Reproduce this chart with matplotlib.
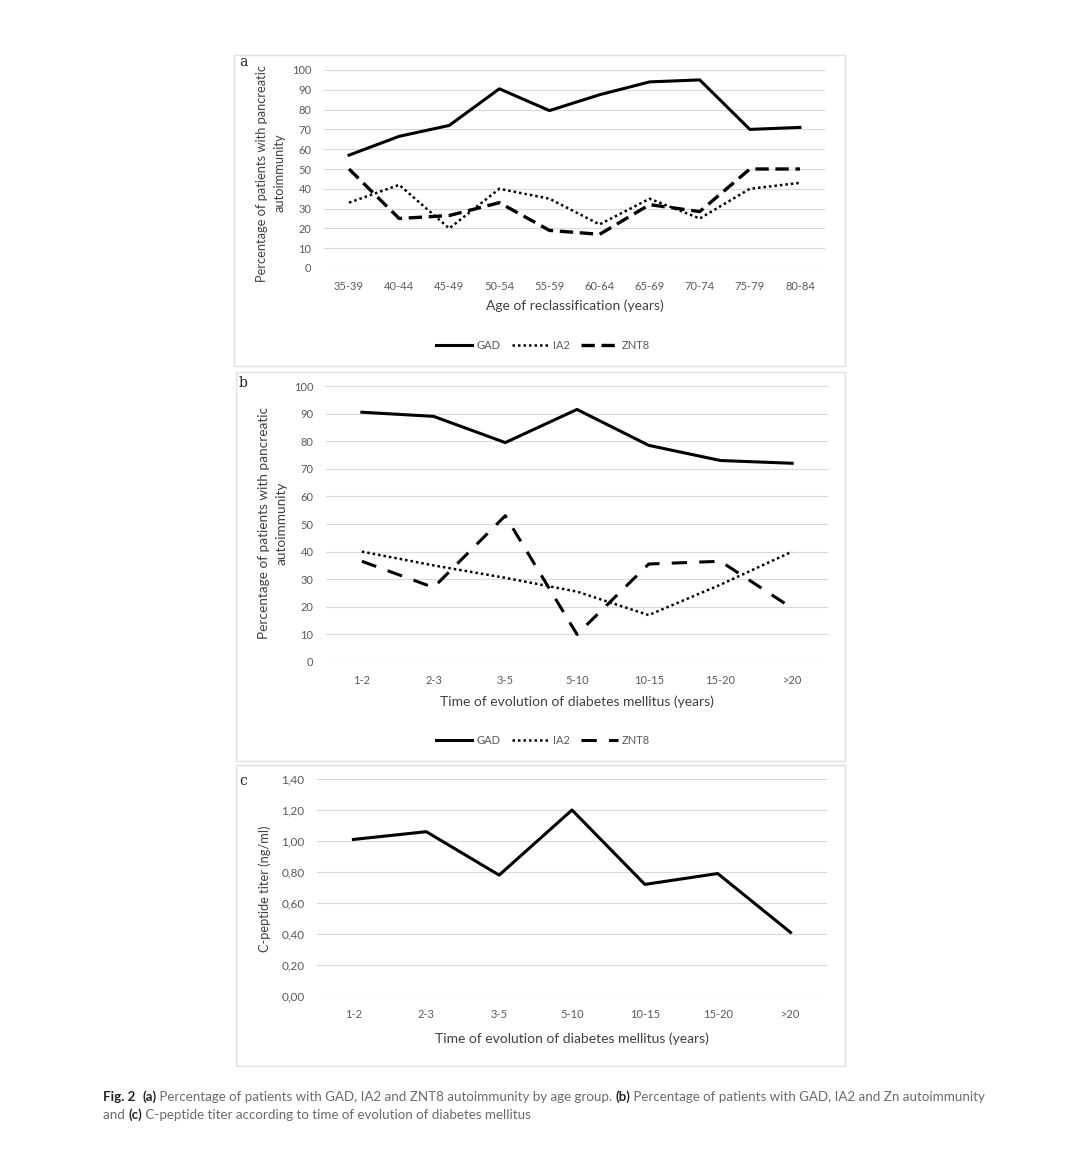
import matplotlib
matplotlib.use('Agg')
import matplotlib.pyplot as plt
from matplotlib.patches import Rectangle

plt.rcParams['font.family'] = ['Lato', 'DejaVu Sans']

# panel a : age of reclassification
age_groups = ['35-39', '40-44', '45-49', '50-54', '55-59', '60-64', '65-69', '70-74', '75-79', '80-84']
gad_a = [57, 66.5, 72, 90.5, 79.5, 87.5, 94, 95, 70, 71]
ia2_a = [33, 42, 20, 40, 35, 22, 35, 25, 40, 43]
znt8_a = [50, 25, 26.5, 33, 19, 17, 32, 28.5, 50, 50]

# panel b : time of evolution
evolution = ['1-2', '2-3', '3-5', '5-10', '10-15', '15-20', '>20']
gad_b = [90.5, 89, 79.5, 91.5, 78.5, 73, 72]
ia2_b = [40, 35, 30.5, 25.5, 17, 28, 40]
znt8_b = [36.5, 27, 53, 10, 35.5, 36.5, 19.5]

# panel c : C-peptide
cpeptide = [1.01, 1.06, 0.78, 1.20, 0.72, 0.79, 0.41]

W, H = 1080, 1149
fig = plt.figure(figsize=(W / 100, H / 100), dpi=100)
fig.patch.set_facecolor('white')

txt = '#595959'
grid = '#d9d9d9'


def box(x0, y0, x1, y1):
    # px coords from top-left
    return [x0 / W, 1 - y1 / H, (x1 - x0) / W, (y1 - y0) / H]


def style(ax):
    for s in ax.spines.values():
        s.set_visible(False)
    ax.tick_params(length=0, labelsize=8, colors=txt, pad=9)
    ax.yaxis.grid(True, color=grid, linewidth=0.8)
    ax.set_axisbelow(True)


def ylab_at(s, px, py, size=9.3):
    fig.text(px / W, 1 - py / H, s, rotation=90, ha='center', va='center',
             multialignment='center', fontsize=size, color='#404040', linespacing=1.5)


# panel borders
for (x0, y0, x1, y1) in [(234, 55, 845, 366), (236, 372, 845, 761), (236, 765, 845, 1066)]:
    fig.patches.append(Rectangle((x0 / W, 1 - y1 / H), (x1 - x0) / W, (y1 - y0) / H,
                                 transform=fig.transFigure, fill=False,
                                 edgecolor='#e0e0e0', linewidth=1))

ylab = 'Percentage of patients with pancreatic\nautoimmunity'
leg_kw = dict(ncol=3, frameon=False, fontsize=8, handlelength=3.3, columnspacing=1.0,
              handletextpad=0.4, labelcolor=txt)

# ---- a ----
ax1 = fig.add_axes(box(324, 70, 825, 268))
x = range(len(age_groups))
ax1.plot(x, gad_a, color='black', lw=2.2, label='GAD')
ax1.plot(x, ia2_a, color='black', lw=1.8, dashes=(1, 1.2), label='IA2')
ax1.plot(x, znt8_a, color='black', lw=2.4, dashes=(4, 2), label='ZNT8')
ax1.set_xlim(-0.5, len(age_groups) - 0.5)
ax1.set_ylim(0, 100)
ax1.set_yticks(range(0, 101, 10))
ax1.set_xticks(list(x))
ax1.set_xticklabels(age_groups)
style(ax1)
ax1.set_xlabel('Age of reclassification (years)', fontsize=10, color='#404040', labelpad=6)
ylab_at(ylab, 271, 173)
ax1.legend(loc='center', bbox_to_anchor=(543 / W, 1 - 345 / H), bbox_transform=fig.transFigure,
           **leg_kw)

# ---- b ----
ax2 = fig.add_axes(box(326, 386, 828, 662))
x = range(len(evolution))
ax2.plot(x, gad_b, color='black', lw=2.2, label='GAD')
ax2.plot(x, ia2_b, color='black', lw=1.8, dashes=(1, 1.2), label='IA2')
ax2.plot(x, znt8_b, color='black', lw=2.2, dashes=(5, 4), label='ZNT8')
ax2.set_xlim(-0.5, len(evolution) - 0.5)
ax2.set_ylim(0, 100)
ax2.set_yticks(range(0, 101, 10))
ax2.set_xticks(list(x))
ax2.set_xticklabels(evolution)
style(ax2)
ax2.set_xlabel('Time of evolution of diabetes mellitus (years)', fontsize=10, color='#404040', labelpad=7)
ylab_at(ylab, 273, 523, size=9.8)
ax2.legend(loc='center', bbox_to_anchor=(543 / W, 1 - 740 / H), bbox_transform=fig.transFigure,
           **leg_kw)

# ---- c ----
ax3 = fig.add_axes(box(317, 779, 827, 996))
ax3.plot(x, cpeptide, color='black', lw=2.2)
ax3.set_xlim(-0.5, len(evolution) - 0.5)
ax3.set_ylim(0, 1.4)
yt = [i * 0.2 for i in range(8)]
ax3.set_yticks(yt)
ax3.set_yticklabels([f'{v:.2f}'.replace('.', ',') for v in yt])
ax3.set_xticks(list(x))
ax3.set_xticklabels(evolution)
style(ax3)
ax3.tick_params(axis='y', labelsize=8.5)
ax3.set_xlabel('Time of evolution of diabetes mellitus (years)', fontsize=10, color='#404040', labelpad=9)
ylab_at('C-peptide titer (ng/ml)', 265, 889)

# panel letters
for lab, (px, py) in zip('abc', [(243, 62), (243, 383), (243, 781)]):
    fig.text(px / W, 1 - py / H, lab, family='DejaVu Serif', fontsize=10,
             ha='center', va='center', color='#222222')

# caption, mixed bold / regular
fig.canvas.draw()
rend = fig.canvas.get_renderer()


def line_of(parts, px, py):
    xpos = px / W
    for s, bold in parts:
        t = fig.text(xpos, 1 - py / H, s, fontsize=9.6, va='center', ha='left',
                     color='#222222' if bold else '#6a6a6a',
                     fontweight='bold' if bold else 'normal')
        bb = t.get_window_extent(renderer=rend)
        xpos += bb.width / W


line_of([('Fig. 2', True), ('  ', False), ('(a)', True),
         (' Percentage of patients with GAD, IA2 and ZNT8 autoimmunity by age group. ', False),
         ('(b)', True), (' Percentage of patients with GAD, IA2 and Zn autoimmunity', False)],
        103, 1097)
line_of([('and ', False), ('(c)', True),
         (' C-peptide titer according to time of evolution of diabetes mellitus', False)],
        103, 1115)

fig.savefig('out.png', dpi=100, facecolor='white')
